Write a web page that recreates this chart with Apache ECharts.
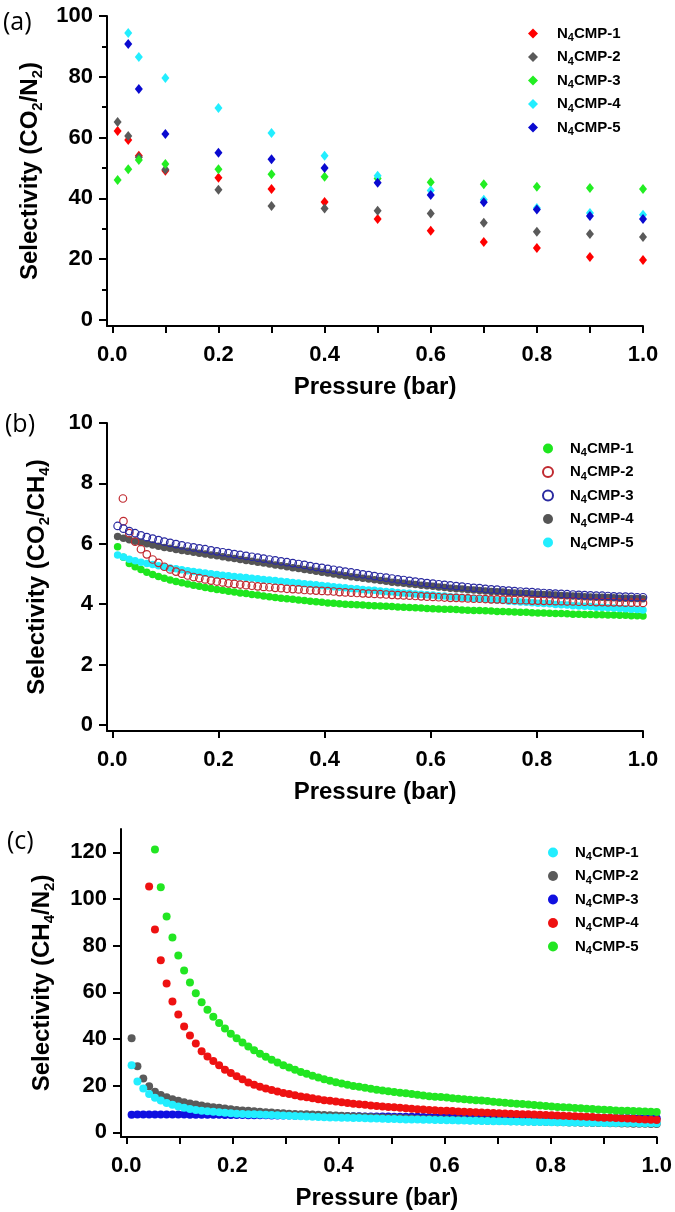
<!DOCTYPE html>
<html><head><meta charset="utf-8">
<script src="https://cdn.jsdelivr.net/npm/echarts@6/dist/echarts.min.js"></script>
<style>html,body{margin:0;padding:0;background:#fff}#c{width:675px;height:1212px}</style>
</head><body><div id="c"></div>
<script>
const FONT = '"Liberation Sans", Arial, sans-serif';

// ---------- tick values ----------
const xMajor = [0, 0.2, 0.4, 0.6, 0.8, 1.0];
const xMinor = [0.1, 0.3, 0.5, 0.7, 0.9];
const aYMajor = [0, 20, 40, 60, 80, 100];
const aYMinor = [10, 30, 50, 70, 90];
const bYMajor = [0, 2, 4, 6, 8, 10];
const cYMajor = [0, 20, 40, 60, 80, 100, 120];

const seriesNames = ['N4CMP-1', 'N4CMP-2', 'N4CMP-3', 'N4CMP-4', 'N4CMP-5'];

// ---------- panel (a): CO2/N2 ----------
const aP = [0.01, 0.03, 0.05, 0.1, 0.2, 0.3, 0.4, 0.5, 0.6, 0.7, 0.8, 0.9, 1.0];
const a1 = [62.2, 59.2, 54.0, 49.1, 46.8, 43.1, 38.8, 33.2, 29.3, 25.6, 23.7, 20.7, 19.7];
const a2 = [65.1, 60.5, 53.5, 49.5, 42.8, 37.5, 36.7, 35.9, 35.0, 32.0, 29.0, 28.3, 27.3];
const a3 = [46.0, 49.6, 52.6, 51.3, 49.6, 47.9, 47.1, 46.5, 45.3, 44.6, 43.8, 43.4, 43.1];
const a4 = [null, 94.4, 86.5, 79.6, 69.7, 61.5, 54.0, 47.4, 42.6, 39.5, 36.8, 35.2, 34.6];
const a5 = [null, 90.8, 76.0, 61.2, 55.0, 52.9, 50.0, 45.1, 41.1, 38.7, 36.3, 34.2, 33.2];

// ---------- pressure grid for (b) and (c) ----------
const P = [0.010, 0.021, 0.032, 0.043, 0.054, 0.065, 0.076, 0.087, 0.098, 0.109,
  0.120, 0.131, 0.142, 0.153, 0.164, 0.175, 0.186, 0.197, 0.208, 0.219,
  0.230, 0.241, 0.252, 0.263, 0.274, 0.285, 0.296, 0.307, 0.318, 0.329,
  0.340, 0.351, 0.362, 0.373, 0.384, 0.395, 0.406, 0.417, 0.428, 0.439,
  0.450, 0.461, 0.472, 0.483, 0.494, 0.505, 0.516, 0.527, 0.538, 0.549,
  0.560, 0.571, 0.582, 0.593, 0.604, 0.615, 0.626, 0.637, 0.648, 0.659,
  0.670, 0.681, 0.692, 0.703, 0.714, 0.725, 0.736, 0.747, 0.758, 0.769,
  0.780, 0.791, 0.802, 0.813, 0.824, 0.835, 0.846, 0.857, 0.868, 0.879,
  0.890, 0.901, 0.912, 0.923, 0.934, 0.945, 0.956, 0.967, 0.978, 0.989, 1.000];

// ---------- panel (b): CO2/CH4 ----------
const b1 = [5.90, 5.55, 5.35, 5.24, 5.15, 5.06, 4.98, 4.92, 4.86, 4.80,
  4.75, 4.71, 4.67, 4.63, 4.59, 4.55, 4.52, 4.49, 4.46, 4.43,
  4.40, 4.37, 4.35, 4.32, 4.30, 4.27, 4.25, 4.22, 4.20, 4.18,
  4.16, 4.14, 4.12, 4.10, 4.08, 4.06, 4.04, 4.03, 4.01, 4.00,
  3.99, 3.98, 3.97, 3.96, 3.95, 3.94, 3.93, 3.92, 3.91, 3.90,
  3.89, 3.88, 3.87, 3.86, 3.85, 3.84, 3.83, 3.83, 3.82, 3.81,
  3.80, 3.79, 3.79, 3.78, 3.77, 3.76, 3.76, 3.75, 3.74, 3.73,
  3.73, 3.72, 3.71, 3.71, 3.70, 3.69, 3.69, 3.68, 3.67, 3.67,
  3.66, 3.66, 3.65, 3.65, 3.64, 3.64, 3.63, 3.63, 3.62, 3.62, 3.61];
const b2 = [null, 6.75, 6.35, 6.07, 5.82, 5.65, 5.48, 5.37, 5.24, 5.15,
  5.08, 5.01, 4.95, 4.90, 4.86, 4.82, 4.78, 4.75, 4.72, 4.69,
  4.67, 4.65, 4.63, 4.61, 4.59, 4.57, 4.56, 4.54, 4.53, 4.51,
  4.50, 4.49, 4.47, 4.46, 4.45, 4.44, 4.43, 4.42, 4.40, 4.39,
  4.38, 4.37, 4.36, 4.35, 4.34, 4.33, 4.32, 4.31, 4.30, 4.29,
  4.28, 4.27, 4.26, 4.25, 4.24, 4.23, 4.22, 4.21, 4.21, 4.20,
  4.19, 4.18, 4.18, 4.17, 4.16, 4.16, 4.15, 4.15, 4.14, 4.13,
  4.13, 4.12, 4.12, 4.11, 4.11, 4.10, 4.10, 4.09, 4.09, 4.08,
  4.08, 4.08, 4.07, 4.07, 4.06, 4.06, 4.06, 4.05, 4.05, 4.05, 4.04];
const b2ExtraP = [0.020];
const b2ExtraV = [7.5];
const b3 = [6.59, 6.50, 6.42, 6.35, 6.28, 6.22, 6.17, 6.12, 6.07, 6.03,
  5.99, 5.95, 5.91, 5.88, 5.85, 5.82, 5.78, 5.75, 5.72, 5.69,
  5.66, 5.63, 5.60, 5.57, 5.54, 5.51, 5.48, 5.45, 5.42, 5.39,
  5.36, 5.33, 5.30, 5.26, 5.23, 5.20, 5.17, 5.14, 5.11, 5.08,
  5.05, 5.02, 4.99, 4.96, 4.93, 4.90, 4.88, 4.85, 4.82, 4.80,
  4.77, 4.75, 4.72, 4.70, 4.68, 4.66, 4.64, 4.62, 4.60, 4.58,
  4.56, 4.54, 4.53, 4.51, 4.49, 4.48, 4.46, 4.45, 4.43, 4.42,
  4.41, 4.40, 4.38, 4.37, 4.36, 4.35, 4.34, 4.33, 4.32, 4.31,
  4.30, 4.29, 4.28, 4.28, 4.27, 4.26, 4.25, 4.25, 4.24, 4.23, 4.23];
const b4 = [6.24, 6.18, 6.13, 6.08, 6.04, 6.00, 5.96, 5.92, 5.88, 5.85,
  5.81, 5.78, 5.75, 5.72, 5.69, 5.66, 5.63, 5.60, 5.57, 5.54,
  5.51, 5.48, 5.45, 5.42, 5.39, 5.36, 5.33, 5.30, 5.27, 5.24,
  5.21, 5.18, 5.15, 5.12, 5.09, 5.06, 5.03, 5.00, 4.97, 4.94,
  4.91, 4.88, 4.86, 4.83, 4.81, 4.78, 4.76, 4.73, 4.71, 4.69,
  4.67, 4.65, 4.63, 4.61, 4.59, 4.57, 4.55, 4.53, 4.51, 4.50,
  4.48, 4.47, 4.45, 4.44, 4.42, 4.41, 4.40, 4.38, 4.37, 4.36,
  4.35, 4.34, 4.33, 4.32, 4.31, 4.30, 4.29, 4.28, 4.27, 4.26,
  4.25, 4.24, 4.23, 4.23, 4.22, 4.21, 4.20, 4.20, 4.19, 4.19, 4.18];
const b5 = [5.63, 5.56, 5.49, 5.44, 5.39, 5.35, 5.31, 5.27, 5.24, 5.20,
  5.17, 5.14, 5.11, 5.08, 5.06, 5.03, 5.01, 4.98, 4.96, 4.94,
  4.92, 4.90, 4.88, 4.86, 4.84, 4.82, 4.80, 4.78, 4.76, 4.74,
  4.72, 4.70, 4.68, 4.66, 4.64, 4.62, 4.60, 4.58, 4.56, 4.54,
  4.52, 4.51, 4.49, 4.47, 4.46, 4.44, 4.42, 4.41, 4.39, 4.37,
  4.36, 4.34, 4.33, 4.31, 4.30, 4.28, 4.27, 4.25, 4.24, 4.22,
  4.21, 4.19, 4.18, 4.16, 4.15, 4.13, 4.12, 4.10, 4.09, 4.07,
  4.06, 4.05, 4.03, 4.02, 4.01, 3.99, 3.98, 3.97, 3.95, 3.94,
  3.93, 3.92, 3.90, 3.89, 3.88, 3.87, 3.86, 3.85, 3.83, 3.82, 3.81];

// ---------- panel (c): CH4/N2 ----------
const c1 = [28.7, 21.8, 18.8, 16.4, 14.8, 13.6, 12.6, 11.8, 11.1, 10.5,
  10.0, 9.6, 9.3, 9.0, 8.8, 8.6, 8.4, 8.2, 8.0, 7.9,
  7.8, 7.7, 7.6, 7.5, 7.4, 7.3, 7.2, 7.1, 7.0, 6.9,
  6.8, 6.7, 6.6, 6.5, 6.4, 6.35, 6.3, 6.2, 6.15, 6.1,
  6.0, 5.95, 5.9, 5.8, 5.75, 5.7, 5.6, 5.55, 5.5, 5.45,
  5.4, 5.35, 5.3, 5.25, 5.2, 5.15, 5.1, 5.05, 5.0, 4.95,
  4.9, 4.85, 4.8, 4.75, 4.7, 4.65, 4.6, 4.55, 4.5, 4.45,
  4.4, 4.4, 4.35, 4.3, 4.3, 4.25, 4.2, 4.2, 4.15, 4.1,
  4.1, 4.05, 4.05, 4.0, 4.0, 3.95, 3.95, 3.9, 3.9, 3.85, 3.85];
const c2 = [40.3, 28.3, 23.1, 19.7, 17.4, 16.0, 15.0, 14.2, 13.5, 12.9,
  12.4, 11.9, 11.5, 11.1, 10.8, 10.5, 10.2, 9.9, 9.6, 9.4,
  9.2, 9.0, 8.8, 8.6, 8.5, 8.3, 8.2, 8.0, 7.9, 7.8,
  7.7, 7.6, 7.5, 7.4, 7.3, 7.2, 7.1, 7.0, 6.9, 6.8,
  6.7, 6.6, 6.5, 6.4, 6.3, 6.2, 6.1, 6.0, 5.9, 5.8,
  5.75, 5.7, 5.6, 5.55, 5.5, 5.4, 5.35, 5.3, 5.2, 5.15,
  5.1, 5.0, 4.95, 4.9, 4.85, 4.8, 4.7, 4.65, 4.6, 4.55,
  4.5, 4.45, 4.4, 4.35, 4.3, 4.25, 4.2, 4.15, 4.1, 4.05,
  4.0, 3.95, 3.9, 3.85, 3.8, 3.75, 3.7, 3.7, 3.65, 3.6, 3.6];
const c3 = [7.5, 7.6, 7.6, 7.6, 7.6, 7.6, 7.6, 7.6, 7.6, 7.6, 7.5, 7.5, 7.5, 7.5, 7.5,
  7.5, 7.4, 7.4, 7.4, 7.4, 7.3, 7.3, 7.3, 7.3, 7.2, 7.2, 7.2, 7.2, 7.1, 7.1,
  7.1, 7.1, 7.0, 7.0, 7.0, 7.0, 6.9, 6.9, 6.9, 6.9, 6.8, 6.8, 6.8, 6.8, 6.8,
  6.7, 6.7, 6.7, 6.7, 6.7, 6.6, 6.6, 6.6, 6.6, 6.6, 6.6, 6.5, 6.5, 6.5, 6.5,
  6.5, 6.5, 6.4, 6.4, 6.4, 6.4, 6.4, 6.4, 6.3, 6.3, 6.3, 6.3, 6.3, 6.3, 6.3,
  6.2, 6.2, 6.2, 6.2, 6.2, 6.2, 6.2, 6.1, 6.1, 6.1, 6.1, 6.1, 6.1, 6.1, 6.1, 6.0];
const c4 = [null, null, null, 105.4, 86.9, 73.7, 63.8, 56.1, 50.5, 45.4,
  41.5, 38.1, 34.7, 32.5, 30.6, 28.7, 26.8, 25.4, 24.0, 22.7,
  21.4, 20.4, 19.5, 18.8, 18.1, 17.5, 16.9, 16.4, 15.9, 15.4,
  15.0, 14.6, 14.2, 13.8, 13.5, 13.2, 12.9, 12.6, 12.3, 12.0,
  11.8, 11.5, 11.3, 11.1, 10.9, 10.7, 10.5, 10.3, 10.1, 9.9,
  9.8, 9.6, 9.5, 9.3, 9.2, 9.1, 8.9, 8.8, 8.7, 8.6,
  8.5, 8.4, 8.3, 8.2, 8.1, 8.0, 7.9, 7.8, 7.7, 7.6,
  7.5, 7.4, 7.3, 7.2, 7.1, 7.0, 6.9, 6.8, 6.7, 6.6,
  6.4, 6.3, 6.2, 6.1, 6.0, 5.9, 5.8, 5.6, 5.5, 5.4, 5.3];
const c5 = [null, null, null, null, 121.2, 105.0, 92.5, 83.5, 75.8, 69.4,
  64.2, 59.6, 55.8, 52.5, 49.5, 46.9, 44.5, 42.3, 40.3, 38.5,
  36.8, 35.2, 33.7, 32.4, 31.1, 29.9, 28.8, 27.8, 26.8, 25.9,
  25.1, 24.3, 23.5, 22.8, 22.1, 21.5, 20.9, 20.4, 19.9, 19.5,
  19.1, 18.7, 18.3, 17.9, 17.6, 17.3, 17.0, 16.7, 16.4, 16.1,
  15.8, 15.5, 15.3, 15.1, 14.9, 14.6, 14.4, 14.2, 14.0, 13.8,
  13.6, 13.4, 13.1, 12.9, 12.7, 12.5, 12.3, 12.1, 11.9, 11.7,
  11.5, 11.3, 11.1, 10.9, 10.8, 10.6, 10.4, 10.3, 10.1, 10.0,
  9.8, 9.7, 9.6, 9.4, 9.3, 9.2, 9.1, 9.0, 8.9, 8.8, 8.7];

// ---------- helpers ----------
function pts(xs, ys) {
  const out = [];
  for (let i = 0; i < ys.length; i++) if (ys[i] != null) out.push([xs[i], ys[i]]);
  return out;
}
const BLACK = '#000';
const tickLabel = { color: BLACK, fontFamily: FONT, fontWeight: 'bold', fontSize: 22 };
const nameRich = {
  t: { fontFamily: FONT, fontWeight: 'bold', fontSize: 24, color: BLACK, lineHeight: 30 },
  s: { fontFamily: FONT, fontWeight: 'bold', fontSize: 15, color: BLACK, lineHeight: 14, verticalAlign: 'bottom' }
};

function xAxisPair(gi, showMinor, shift) {
  return [{
    type: 'value', gridIndex: gi, position: 'bottom', min: -0.01, max: 1.0,
    axisLine: { show: true, onZero: false, lineStyle: { color: BLACK, width: 2 } },
    axisTick: { show: true, length: 7, lineStyle: { color: BLACK, width: 2 }, customValues: xMajor },
    axisLabel: Object.assign({ show: true, margin: 18, customValues: xMajor, formatter: v => Number(v).toFixed(1) }, tickLabel),
    splitLine: { show: false },
    name: '{t|Pressure (bar)}', nameLocation: 'middle', nameGap: 46,
    nameTextStyle: { rich: nameRich, padding: [0, shift, 0, 0] }
  }, {
    type: 'value', gridIndex: gi, position: 'bottom', min: -0.01, max: 1.0,
    axisLine: { show: false, onZero: false },
    axisTick: { show: showMinor, length: 7, lineStyle: { color: BLACK, width: 2 }, customValues: xMinor },
    axisLabel: { show: false }, splitLine: { show: false }
  }];
}
function yAxisPair(gi, min, max, major, minor, name, gap) {
  return [{
    type: 'value', gridIndex: gi, position: 'left', min: min, max: max,
    axisLine: { show: true, onZero: false, lineStyle: { color: BLACK, width: 2 } },
    axisTick: { show: true, length: 8, lineStyle: { color: BLACK, width: 2 }, customValues: major },
    axisLabel: Object.assign({ show: true, margin: 14, customValues: major }, tickLabel),
    splitLine: { show: false },
    name: name, nameLocation: 'middle', nameGap: gap, nameRotate: 90,
    nameTextStyle: { rich: nameRich }
  }, {
    type: 'value', gridIndex: gi, position: 'left', min: min, max: max,
    axisLine: { show: false, onZero: false },
    axisTick: { show: minor.length > 0, length: 5, lineStyle: { color: BLACK, width: 2 }, customValues: minor.length ? minor : [min] },
    axisLabel: { show: false }, splitLine: { show: false }
  }];
}

const legendRich = {
  f: { fontFamily: FONT, fontWeight: 'bold', fontSize: 15, color: BLACK, lineHeight: 20, padding: [0, 0, 0, 0] },
  n: { fontFamily: FONT, fontWeight: 'bold', fontSize: 15, color: BLACK, lineHeight: 20 },
  s: { fontFamily: FONT, fontWeight: 'bold', fontSize: 11, color: BLACK, lineHeight: 10, verticalAlign: 'bottom' }
};
function legendFor(prefix, left, top, pad, names) {
  const rich = JSON.parse(JSON.stringify(legendRich));
  rich.f.padding = [0, 0, 0, pad];
  return {
    orient: 'vertical', left: left, top: top, padding: 0, itemGap: 6,
    itemWidth: 10, itemHeight: 10, selectedMode: false,
    data: names.map(n => prefix + n),
    formatter: name => {
      const label = name.slice(prefix.length); // e.g. N4CMP-1
      return '{f|N}{s|4}{n|' + label.slice(2) + '}';
    },
    textStyle: { rich: rich }
  };
}

function scatter(name, xi, yi, data, symbol, size, style, z) {
  return { type: 'scatter', name: name, xAxisIndex: xi, yAxisIndex: yi, data: data,
    symbol: symbol, symbolSize: size, itemStyle: Object.assign({ opacity: 1 }, style), z: z || 2, silent: true };
}

// colours
const aCol = ['#ff0000', '#5a5a5a', '#22ee22', '#22eeff', '#0a0ad0'];
const bCol = ['#1ee61e', '#c02a30', '#2a2aa0', '#555555', '#22eeff'];
const cCol = ['#22eeff', '#5a5a5a', '#1010e0', '#ee1111', '#22e622'];

const aSeries = [a1, a2, a3, a4, a5];
const bSeries = [b1, b2, b3, b4, b5];
const cSeries = [c1, c2, c3, c4, c5];

const series = [];
// (a) diamonds
aSeries.forEach((ys, i) => {
  series.push(scatter('a:' + seriesNames[i], 0, 0, pts(aP, ys), 'diamond', [8, 10], { color: aCol[i] }, 2 + i));
});
// (b): filled (1,4,5) then open (2,3)
[0, 3, 4, 1, 2].forEach((i, k) => {
  const open = (i === 1 || i === 2);
  let data = pts(P, bSeries[i]);
  if (i === 1) data = pts(b2ExtraP, b2ExtraV).concat(data);
  const style = open ? { color: 'rgba(255,255,255,0)', borderColor: bCol[i], borderWidth: 1.2 } : { color: bCol[i] };
  series.push(scatter('b:' + seriesNames[i], 2, 2, data, 'circle', 7.5, style, 2 + k));
});
// (c): blue, gray, cyan, red, green
[2, 1, 0, 3, 4].forEach((i, k) => {
  series.push(scatter('c:' + seriesNames[i], 4, 4, pts(P, cSeries[i]), 'circle', 8, { color: cCol[i] }, 2 + k));
});

const option = {
  animation: false,
  backgroundColor: '#fff',
  grid: [
    { left: 107, top: 16, width: 536, height: 310 },
    { left: 107, top: 423, width: 536, height: 308 },
    { left: 121, top: 829, width: 536, height: 308 }
  ],
  xAxis: [].concat(xAxisPair(0, true, 0), xAxisPair(1, false, 0), xAxisPair(2, true, 24)),
  yAxis: [].concat(
    yAxisPair(0, -2, 100, aYMajor, aYMinor, '{t|Selectivity (CO}{s|2}{t|/N}{s|2}{t|)}', 55),
    yAxisPair(1, -0.2, 10, bYMajor, [], '{t|Selectivity (CO}{s|2}{t|/CH}{s|4}{t|)}', 55),
    yAxisPair(2, -2, 130, cYMajor, [], '{t|Selectivity (CH}{s|4}{t|/N}{s|2}{t|)}', 64)
  ),
  legend: [
    legendFor('a:', 528, 26, 14, seriesNames),
    legendFor('b:', 542, 441, 12, seriesNames),
    legendFor('c:', 548, 845, 12, seriesNames)
  ],
  graphic: [
    { type: 'text', left: 3, top: 10, style: { text: '(a)', fontSize: 25, fontFamily: '"Open Sans", sans-serif', fill: BLACK } },
    { type: 'text', left: 5, top: 412, style: { text: '(b)', fontSize: 25, fontFamily: '"Open Sans", sans-serif', fill: BLACK } },
    { type: 'text', left: 7, top: 829, style: { text: '(c)', fontSize: 25, fontFamily: '"Open Sans", sans-serif', fill: BLACK } }
  ],
  series: series
};

const chart = echarts.init(document.getElementById('c'), null, { renderer: 'canvas' });
chart.setOption(option);
</script>
</body></html>
